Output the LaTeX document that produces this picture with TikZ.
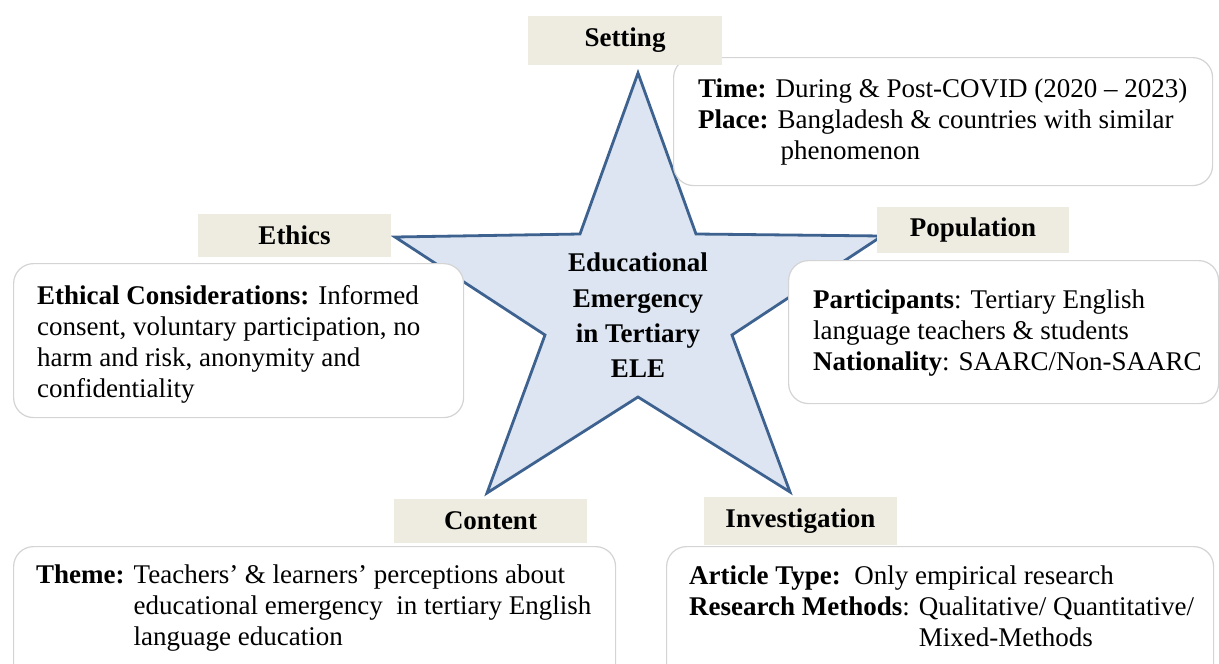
\documentclass[tikz,border=0pt]{standalone}
\usepackage{fontspec}
\setmainfont{Liberation Serif}
\definecolor{labelbeige}{HTML}{EEECE1}
\definecolor{starfill}{HTML}{DCE5F1}
\definecolor{starline}{HTML}{3E6290}
\definecolor{boxline}{HTML}{D4D4D4}
\begin{document}
\begin{tikzpicture}[x=1pt,y=-1pt,
  labelbox/.style={fill=labelbeige, inner sep=0pt, font=\fontsize{27}{31}\selectfont\bfseries},
  infobox/.style={fill=white, draw=boxline, line width=1.2pt, rounded corners=20pt, inner sep=0pt, anchor=north west},
  bodytext/.style={anchor=north west, align=left, inner sep=0pt, font=\fontsize{27}{31}\selectfont},
  startext/.style={anchor=north, align=center, inner sep=0pt, font=\fontsize{27}{35.3}\selectfont\bfseries}]
\useasboundingbox (0,0) rectangle (1219,664);
% star
\draw[starline, fill=starfill, line width=2.8pt, line join=miter]
  (638,73) -- (696,234) -- (882,236) -- (732,335) -- (790,492) -- (638,397)
  -- (487,493) -- (545,335) -- (395,237) -- (580,234) -- cycle;
\node[startext] (core) at (638,253) {Educational\\Emergency\\in Tertiary\\ELE};
% boxes
\node[infobox, minimum width=539pt, minimum height=128pt] (settingbox) at (673,57) {};
\node[infobox, minimum width=450pt, minimum height=154pt] (ethicsbox) at (13,263) {};
\node[infobox, minimum width=430pt, minimum height=143pt] (populationbox) at (788,260) {};
\node[infobox, minimum width=602pt, minimum height=140pt] (contentbox) at (13,546) {};
\node[infobox, minimum width=547pt, minimum height=140pt] (investigationbox) at (666,546) {};
% labels
\node[labelbox, minimum width=194pt, minimum height=49pt] (setting) at (625,40.5) {Setting};
\node[labelbox, minimum width=193pt, minimum height=43pt] (ethics) at (294.5,235.5) {Ethics};
\node[labelbox, minimum width=192pt, minimum height=46pt] (population) at (973,230) {Population};
\node[labelbox, minimum width=193pt, minimum height=44pt] (content) at (490.5,521) {Content};
\node[labelbox, minimum width=193pt, minimum height=48pt] (investigation) at (800.5,521) {Investigation};
% texts
\node[bodytext] (settingtext) at (698,79)
  {\textbf{Time:} During \& Post-COVID (2020 -- 2023)\\
   \textbf{Place:} Bangladesh \& countries with similar\\
   \phantom{\textbf{Place:} }\hspace*{3pt}phenomenon};
\node[bodytext] (ethicstext) at (37,285.5)
  {\textbf{Ethical Considerations:} Informed\\
   consent, voluntary participation, no\\
   harm and risk, anonymity and\\
   confidentiality};
\node[bodytext] (populationtext) at (813,289.5)
  {\textbf{Participants}: Tertiary English\\
   language teachers \& students\\
   \textbf{Nationality}: SAARC/Non-SAARC};
\node[bodytext] (contenttext) at (36,564.5)
  {\textbf{Theme:} Teachers' \& learners' perceptions about\\
   \phantom{\textbf{Theme:} }educational emergency\ \ in tertiary English\\
   \phantom{\textbf{Theme:} }language education};
\node[bodytext] (investigationtext) at (689,565.5)
  {\textbf{Article Type:}\ \ Only empirical research\\
   \textbf{Research Methods}: Qualitative/ Quantitative/\\
   \phantom{\textbf{Research Methods}: }Mixed-Methods};
\end{tikzpicture}
\end{document}
